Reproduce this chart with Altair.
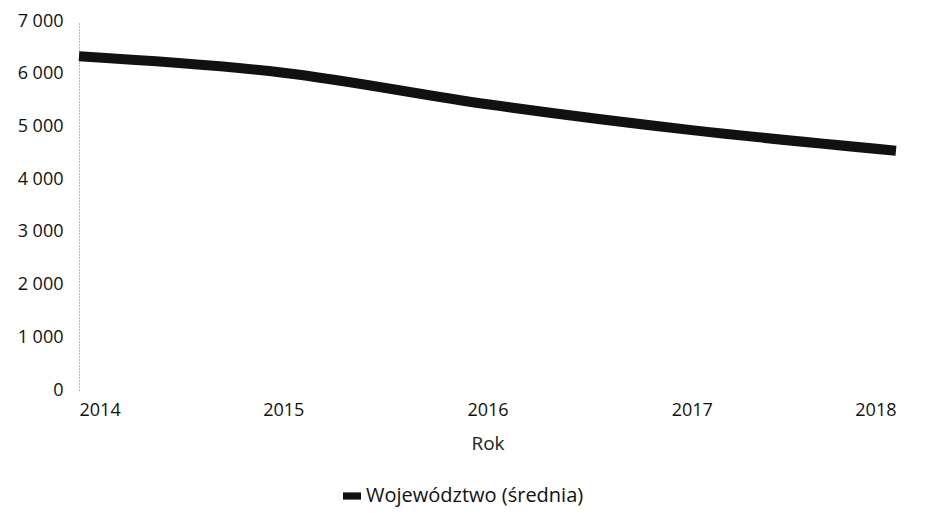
import altair as alt
import pandas as pd

years = [2014, 2015, 2016, 2017, 2018]
values = [6330, 6020, 5420, 4930, 4540]
series = ["Województwo (średnia)"] * 5
y_ticks = [0, 1000, 2000, 3000, 4000, 5000, 6000, 7000]

df = pd.DataFrame({"Rok": years, "Wartość": values, "Seria": series})

font = "Open Sans"

chart = alt.Chart(df).mark_line(
    interpolate="monotone", strokeWidth=10, strokeCap="butt"
).encode(
    x=alt.X("Rok:Q", scale=alt.Scale(domain=[2014, 2018], nice=False, zero=False),
            axis=alt.Axis(values=years, format="d", title="Rok", domain=False, ticks=False,
                          grid=False, labelFontSize=18, labelPadding=11, titleFontSize=19,
                          titleFontWeight="normal", titlePadding=15, labelFont=font,
                          titleFont=font, labelColor="#111", titleColor="#222")),
    y=alt.Y("Wartość:Q", scale=alt.Scale(domain=[0, 7000], nice=False),
            axis=alt.Axis(values=y_ticks,
                          labelExpr="replace(format(datum.value, ','), ',', ' ')",
                          title=None, grid=False, ticks=False, domain=True,
                          domainDash=[1, 2], domainColor="#777", domainWidth=1,
                          labelFontSize=18, labelPadding=16, labelFont=font, labelColor="#111")),
    color=alt.Color("Seria:N", scale=alt.Scale(range=["#111111"]),
                    legend=alt.Legend(title=None, orient="none", legendX=263, legendY=465,
                                      symbolType="M-1,-0.4H1V0.4H-1Z",
                                      symbolSize=324, symbolFillColor="#111",
                                      symbolStrokeColor="#111", symbolStrokeWidth=0,
                                      labelFontSize=20, labelFont=font, labelLimit=400,
                                      labelColor="#111", labelOffset=4)),
).properties(width=817, height=369, padding={"left": 9, "top": 4, "right": 0, "bottom": 5}
).configure_view(stroke=None)

chart.save("out.html", embed_options={"renderer": "svg", "actions": False})
